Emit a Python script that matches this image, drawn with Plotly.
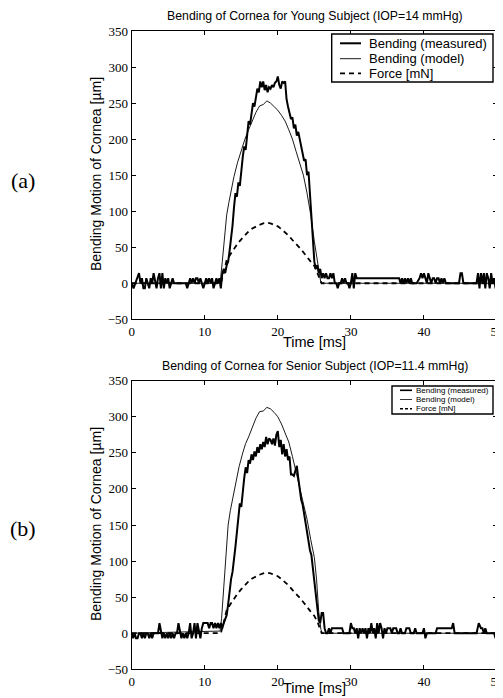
import plotly.graph_objects as go

# ---------------- data (time [ms], value) ----------------
young_measured = [
    (0, 0), (0.25, -7), (0.5, 0), (0.75, 7), (1.0, 14), (1.2, 0), (1.4, 7), (1.6, -7), (1.8, -7), (2.0, 7),
    (2.2, 0), (2.4, -7), (2.6, 7), (2.8, 0), (3.0, 14), (3.2, 0), (3.4, -7), (3.6, 7), (3.8, 14), (4.0, -7),
    (4.2, 14), (4.4, -7), (4.6, 7), (4.8, 0), (5.0, 7), (5.2, -7), (5.4, 0), (5.6, 7), (5.8, 0), (6.0, 0),
    (7.4, 0), (7.6, -7), (7.8, 0), (8.0, 7), (8.2, 0), (8.4, 7), (8.6, 0), (8.8, 7), (9.0, 7), (9.2, 0),
    (9.4, 7), (9.6, 0), (9.8, -7), (10.0, 0), (10.2, 7), (10.4, 0), (10.6, 7), (10.8, 0), (11.0, 7), (11.2, -7),
    (11.4, 0), (11.6, 7), (11.8, 0), (12.0, 7), (12.2, -7),
    (12.4, 14), (12.6, 20), (12.8, 14), (13.0, 25), (13.2, 30), (13.4, 45), (13.6, 60), (13.8, 80), (14.0, 105),
    (14.2, 125), (14.4, 120), (14.6, 140), (14.8, 135), (15.0, 160), (15.2, 175), (15.4, 190), (15.6, 185),
    (15.8, 205), (16.0, 225), (16.2, 220), (16.4, 240), (16.6, 250), (16.8, 245), (17.0, 260), (17.2, 270),
    (17.4, 265), (17.6, 280), (17.8, 272), (18.0, 280), (18.2, 268), (18.4, 275), (18.6, 265), (18.8, 272),
    (19.0, 270), (19.2, 275), (19.4, 272), (19.6, 278), (19.8, 280), (20.0, 287), (20.2, 275), (20.4, 270),
    (20.6, 280), (20.8, 278), (21.0, 280), (21.2, 255), (21.4, 245), (21.6, 235), (21.8, 228), (22.0, 230),
    (22.2, 215), (22.4, 220), (22.6, 205), (22.8, 210), (23.0, 200), (23.2, 185), (23.4, 180), (23.6, 170),
    (23.8, 172), (24.0, 150), (24.2, 155), (24.4, 120), (24.6, 90), (24.8, 50), (25.0, 30), (25.2, 20),
    (25.4, 25), (25.6, 14), (25.8, 20), (26.0, 7), (26.2, 14),
    (26.4, 7), (26.6, 14), (26.8, 7), (27.0, 7), (27.2, 14), (27.4, 7), (27.6, 14), (27.8, 0), (28.0, 0),
    (28.2, -7), (28.4, 0), (28.6, 0), (28.8, 7), (29.0, 0), (29.2, 7), (29.4, 0), (29.6, 0), (29.8, -7),
    (30.0, 0), (30.2, 14), (30.4, -7), (30.6, 14), (30.8, 7), (31.0, 7), (36.6, 7), (36.8, 0), (37.0, 7),
    (37.2, 0), (37.4, 7), (37.6, 0), (37.8, 7), (38.0, 0), (38.2, 7), (38.4, 0), (39.0, 0), (39.4, 7),
    (39.6, 14), (39.8, 7), (40.0, 14), (40.2, 7), (40.4, 0), (40.6, 14), (40.8, 7), (41.0, 0), (41.2, 7),
    (41.4, 7), (41.6, 0), (41.8, 7), (42.0, 7), (42.2, 0), (42.4, 7), (42.6, 0), (42.8, 7), (43.0, 0),
    (43.4, 0), (44.8, 0), (45.0, 14), (45.2, 14), (45.4, 0), (47.2, 0), (47.4, 14), (47.6, -7), (47.8, 14),
    (48.0, 0), (48.2, 14), (48.4, -7), (48.6, 14), (48.8, 7), (49.0, -7), (49.2, 14), (49.4, 0), (49.6, 7),
    (49.8, -7), (50.0, 7),
]

young_model = [
    (0, 0), (12.1, 0), (12.4, 30), (12.7, 65), (13.0, 95), (13.3, 112), (13.6, 128), (14.0, 148), (14.5, 168),
    (15.0, 185), (15.5, 200), (16.0, 213), (16.5, 225), (17.0, 237), (17.5, 246), (18.0, 248), (18.5, 253),
    (19.0, 250), (19.5, 245), (20.0, 240), (20.5, 233), (21.0, 225), (21.5, 213), (22.0, 200), (22.5, 183),
    (23.0, 167), (23.5, 150), (24.0, 125), (24.5, 95), (25.0, 58), (25.5, 22), (25.9, 0), (50, 0),
]

young_force = [
    (0, 0), (12.2, 0), (12.6, 15), (13.0, 32), (13.5, 40), (14.0, 48), (14.5, 55), (15.0, 61), (15.5, 67),
    (16.0, 72), (16.5, 76), (17.0, 79), (17.5, 81), (18.0, 83), (18.5, 84), (19.0, 83), (19.5, 81), (20.0, 79),
    (20.5, 75), (21.0, 71), (21.5, 66), (22.0, 60), (22.5, 55), (23.0, 49), (23.5, 43), (24.0, 36), (24.5, 30),
    (25.0, 24), (25.5, 12), (26.0, 0), (50, 0),
]

senior_measured = [
    (0, 0), (0.2, -7), (0.4, 0), (0.6, -7), (0.8, -7), (1.0, 0), (1.2, 0), (1.4, -7), (1.6, 0), (1.8, -7),
    (2.0, 0), (2.2, 0), (2.4, -7), (2.6, 0), (2.8, -7), (3.0, 0), (3.2, 0), (3.4, 0), (3.6, 0), (3.8, 14),
    (4.0, 0), (4.2, -7), (4.4, 0), (4.6, -7), (4.8, 0), (5.0, -7), (5.2, 0), (5.4, -7), (5.6, 0), (5.8, -7),
    (6.0, 0), (6.2, 0), (6.4, 14), (6.6, 0), (6.8, -7), (7.0, 0), (7.2, -7), (7.4, 0), (7.6, -7), (7.8, 0),
    (8.0, 14), (8.2, -7), (8.4, 0), (8.6, 14), (8.8, -7), (9.0, 14), (9.2, 0), (9.4, -7), (9.6, 7), (9.8, 14),
    (10.0, 14), (10.4, 14), (10.6, 7), (10.8, 14), (11.0, 14), (11.2, 7), (11.4, 14), (11.6, 7), (11.8, 14),
    (12.0, 7), (12.2, 14), (12.4, 7), (12.6, 14),
    (12.8, 20), (13.0, 25), (13.2, 40), (13.4, 60), (13.6, 75), (13.8, 85), (14.0, 100), (14.2, 120),
    (14.4, 140), (14.6, 160), (14.8, 180), (15.0, 175), (15.2, 200), (15.4, 215), (15.6, 230), (15.8, 222),
    (16.0, 240), (16.2, 235), (16.4, 248), (16.6, 240), (16.8, 252), (17.0, 245), (17.2, 258), (17.4, 250),
    (17.6, 262), (17.8, 255), (18.0, 265), (18.2, 258), (18.4, 272), (18.6, 262), (18.8, 270), (19.0, 268),
    (19.2, 262), (19.4, 270), (19.6, 260), (19.8, 275), (20.0, 280), (20.2, 258), (20.4, 268), (20.6, 248),
    (20.8, 262), (21.0, 245), (21.2, 255), (21.4, 240), (21.6, 245), (21.8, 220), (22.0, 220), (22.2, 218),
    (22.4, 225), (22.6, 232), (22.8, 215), (23.0, 200), (23.2, 185), (23.4, 178), (23.6, 165), (23.8, 155),
    (24.0, 145), (24.2, 130), (24.4, 115), (24.6, 108), (24.8, 90), (25.0, 75), (25.2, 55), (25.4, 40),
    (25.6, 18), (25.8, 14), (26.0, 28), (26.2, 28), (26.4, 7), (26.6, 0), (26.8, 0), (27.0, 7), (27.2, 0),
    (27.4, 7), (28.8, 7), (29.0, 0), (29.8, 0), (30.0, 14), (30.2, 7), (30.4, 7), (30.6, 0), (30.8, 7),
    (31.0, -7), (31.2, 7), (31.4, 0), (31.6, 7), (31.8, 0), (32.0, 7), (32.2, -7), (32.4, 7), (32.6, 0),
    (32.8, 14), (33.0, 0), (33.2, 7), (33.4, -7), (33.6, 14), (33.8, 0), (34.0, 14), (34.2, 7), (34.4, -7),
    (34.6, 7), (34.8, 0), (35.0, 7), (35.4, 7), (35.6, 0), (35.8, 7), (36.2, 7), (36.4, 0), (36.6, 0),
    (36.8, 7), (37.0, 0), (37.4, 0), (37.6, 7), (38.0, 7), (38.2, 0), (38.6, 0), (38.8, 7), (39.0, 0),
    (39.8, 0), (40.0, 7), (40.2, -7), (40.4, 0), (41.6, 0), (41.8, 7), (43.8, 7), (44.0, 14), (44.2, 0),
    (47.2, 0), (47.5, 14), (47.8, 7), (48.0, 7), (48.2, 0), (48.4, 7), (48.6, 0), (49.6, 0), (49.8, -7),
    (50.0, 0),
]

senior_model = [
    (0, 0), (12.1, 3), (12.3, 20), (12.5, 48), (12.7, 85), (12.9, 115), (13.2, 150), (13.5, 170), (13.8, 185),
    (14.2, 208), (14.7, 231), (15.2, 250), (15.6, 263), (16.0, 272), (16.5, 285), (17.0, 298), (17.5, 307),
    (18.0, 308), (18.5, 313), (19.0, 311), (19.5, 306), (20.0, 300), (20.5, 290), (21.0, 278), (21.5, 265),
    (22.0, 245), (22.5, 222), (23.0, 200), (23.5, 180), (24.0, 158), (24.5, 130), (25.0, 105), (25.3, 75),
    (25.6, 30), (25.9, 5), (26.1, 0), (50, 0),
]

senior_force = [
    (0, 0), (12.2, 0), (12.6, 15), (13.0, 32), (13.5, 40), (14.0, 48), (14.5, 55), (15.0, 61), (15.5, 67),
    (16.0, 72), (16.5, 76), (17.0, 79), (17.5, 81), (18.0, 83), (18.5, 84), (19.0, 83), (19.5, 81), (20.0, 79),
    (20.5, 75), (21.0, 71), (21.5, 66), (22.0, 60), (22.5, 55), (23.0, 49), (23.5, 43), (24.0, 36), (24.5, 30),
    (25.0, 24), (25.5, 14), (26.0, 0), (50, 0),
]

x_ticks = [0, 10, 20, 30, 40, 50]
y_ticks = [-50, 0, 50, 100, 150, 200, 250, 300, 350]
titles = ["Bending of Cornea for Young Subject (IOP=14 mmHg)",
          "Bending of Cornea for Senior Subject (IOP=11.4 mmHg)"]
legend_names = ["Bending (measured)", "Bending (model)", "Force [mN]"]
panel_labels = ["(a)", "(b)"]

# ---------------- layout helpers (page pixel -> paper) ----------------
# the page body has an 8px margin, so the figure starts at page pixel (8, 8)
OFF = 8
FW, FH = 495, 688

def px(x):
    return (x - OFF) / FW

def py(y):
    return 1 - (y - OFF) / FH

SANS = "Liberation Sans, Arial, Helvetica, sans-serif"
SERIF = "Liberation Serif, Times New Roman, serif"

fig = go.Figure()

styles = [dict(width=2.0, color="black"),
          dict(width=0.9, color="black"),
          dict(width=1.8, color="black", dash="5px,4px")]

for i, series in enumerate([(young_measured, young_model, young_force),
                            (senior_measured, senior_model, senior_force)]):
    xa = "x" if i == 0 else "x2"
    ya = "y" if i == 0 else "y2"
    for j, s in enumerate(series):
        t, v = zip(*s)
        fig.add_trace(go.Scatter(x=list(t), y=list(v), mode="lines", line=styles[j],
                                 name=legend_names[j], showlegend=False, xaxis=xa, yaxis=ya))

axis_common = dict(showline=True, linecolor="black", linewidth=1.2, mirror="ticks",
                   ticks="inside", ticklen=4, tickwidth=1, tickcolor="black",
                   showgrid=False, zeroline=False, automargin=False,
                   ticklabeloverflow="allow",
                   tickfont=dict(family=SERIF, size=13, color="black"))

x_dom = [px(131.7), px(497)]
top_dom = [py(319.3), py(31)]
bot_dom = [py(669.3), py(380.7)]

fig.update_layout(
    template="none",
    width=FW, height=FH, margin=dict(l=0, r=0, t=0, b=0),
    paper_bgcolor="white", plot_bgcolor="white", showlegend=False,
    xaxis=dict(domain=x_dom, range=[0, 50], tickvals=x_ticks, anchor="y", **axis_common),
    yaxis=dict(domain=top_dom, range=[-50, 350], tickvals=y_ticks, anchor="x", **axis_common),
    xaxis2=dict(domain=x_dom, range=[0, 50], tickvals=x_ticks, anchor="y2", **axis_common),
    yaxis2=dict(domain=bot_dom, range=[-50, 350], tickvals=y_ticks, anchor="x2", **axis_common),
)

ann = []
shapes = []
# titles
for title, yc in zip(titles, [16, 365.7]):
    ann.append(dict(text=title, x=px(315), y=py(yc), xref="paper", yref="paper",
                    showarrow=False, xanchor="center", yanchor="middle",
                    font=dict(family=SANS, size=12.3, color="black")))
# x axis titles
for yc in [342, 688]:
    ann.append(dict(text="Time [ms]", x=px(314.5), y=py(yc), xref="paper", yref="paper",
                    showarrow=False, xanchor="center", yanchor="middle",
                    font=dict(family=SANS, size=14.5, color="black")))
# y axis titles
for yc in [174, 524]:
    ann.append(dict(text="Bending Motion of Cornea [µm]", x=px(96), y=py(yc), xref="paper", yref="paper",
                    showarrow=False, xanchor="center", yanchor="middle", textangle=-90,
                    font=dict(family=SANS, size=14, color="black")))
# panel labels
for lab, yc in zip(panel_labels, [180.7, 528.3]):
    ann.append(dict(text=lab, x=px(23), y=py(yc), xref="paper", yref="paper",
                    showarrow=False, xanchor="center", yanchor="middle",
                    font=dict(family=SERIF, size=22, color="black")))

# manual legends
legends = [
    dict(box=(331.7, 34, 493, 82), l0=340, l1=361, tx=367, rows=[43.3, 58.7, 73.3], fs=13,
         widths=[2.0, 0.9, 1.8], dash="5px,4px"),
    dict(box=(392, 386, 493, 414), l0=400, l1=412, tx=414, rows=[390.3, 399.5, 408.8], fs=8,
         widths=[1.6, 0.8, 1.4], dash="3px,2px"),
]
for lg in legends:
    x0, y0, x1, y1 = lg["box"]
    shapes.append(dict(type="rect", xref="paper", yref="paper", x0=px(x0), y0=py(y1), x1=px(x1), y1=py(y0),
                       line=dict(color="black", width=1.4), fillcolor="white", layer="above"))
    for k, (name, ry) in enumerate(zip(legend_names, lg["rows"])):
        line = dict(color="black", width=lg["widths"][k])
        if k == 2:
            line["dash"] = lg["dash"]
        shapes.append(dict(type="line", xref="paper", yref="paper", x0=px(lg["l0"]), x1=px(lg["l1"]),
                           y0=py(ry), y1=py(ry), line=line, layer="above"))
        ann.append(dict(text=name, x=px(lg["tx"]), y=py(ry), xref="paper", yref="paper",
                        showarrow=False, xanchor="left", yanchor="middle",
                        font=dict(family=SANS, size=lg["fs"], color="black")))

fig.update_layout(annotations=ann, shapes=shapes)
fig.write_html("out.html")
